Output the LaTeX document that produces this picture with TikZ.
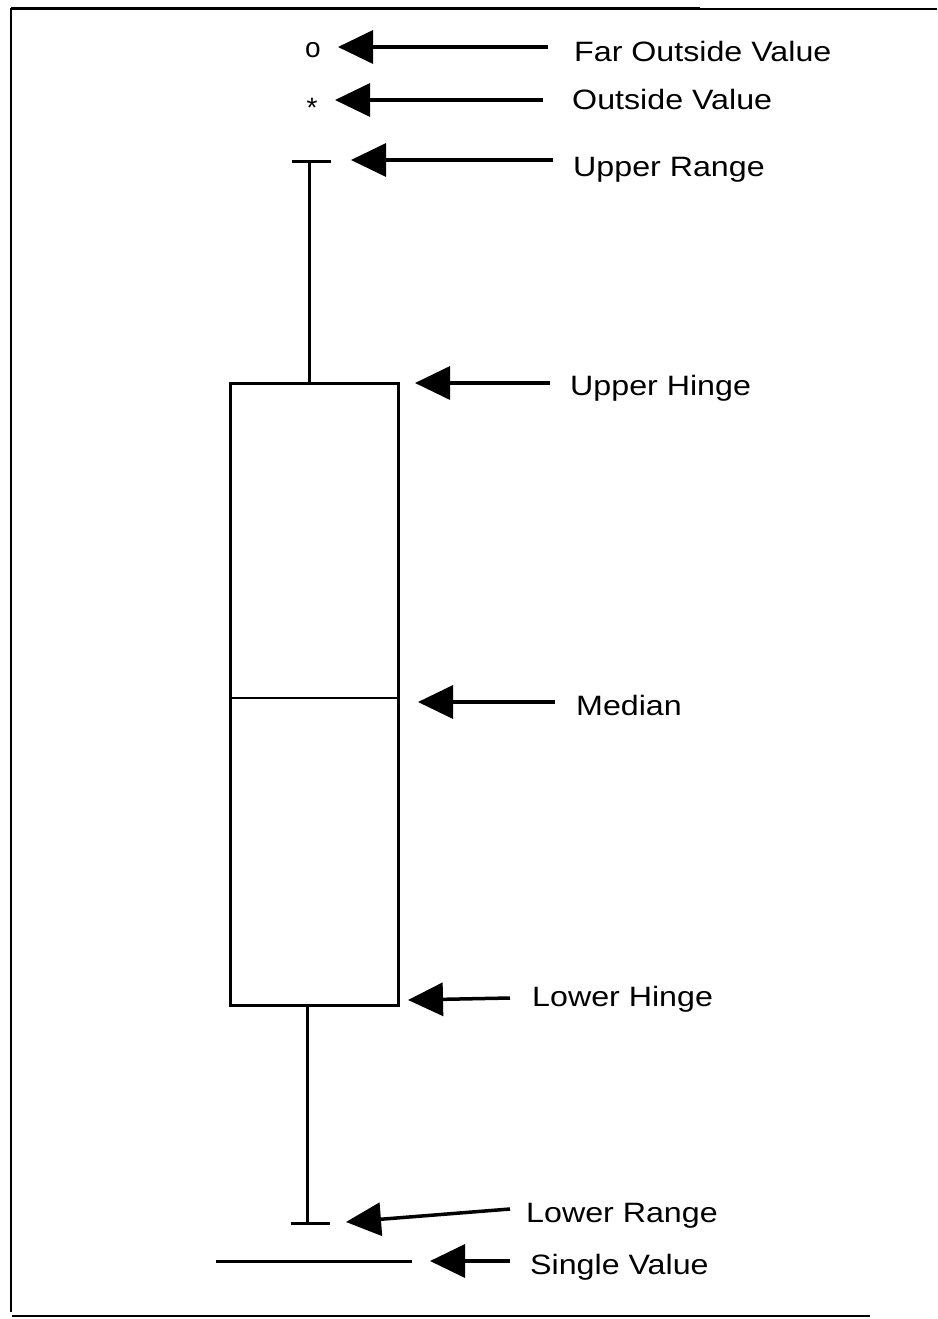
\documentclass[tikz,border=0pt]{standalone}
\usepackage{fontspec}
\setmainfont{Liberation Sans}
\usetikzlibrary{arrows.meta}
\tikzset{
  ptr/.style={line width=3.5pt,-{Triangle[length=35pt,width=33pt]}},
  lbl/.style={anchor=base west,inner sep=0pt,font=\fontsize{28}{30}\selectfont},
  frm/.style={line width=2.5pt},
  boxln/.style={line width=2.5pt},
  markernode/.style={inner sep=0pt,font=\fontsize{28}{30}\selectfont}
}
\newcommand{\wlbl}[1]{\scalebox{1.15}[1]{#1}}
\begin{document}
\begin{tikzpicture}[x=1pt,y=-1pt]
\useasboundingbox (0,0) rectangle (937,1319);
% frame
\draw[frm] (11,1312) -- (11,9) -- (937,9);
\draw[line width=3pt] (11,9) -- (700,9);
\draw[frm] (12,1316) -- (870,1316);
% markers
\node[markernode] (far) at (313,50) {o};
\node[markernode] (out) at (312,108) {*};
% box
\node[boxln,draw,minimum width=168pt,minimum height=622pt,inner sep=0pt,anchor=north west] (box) at (229,382) {};
\coordinate (medL) at (229,698);
\coordinate (medR) at (397,698);
\draw[boxln] (medL) -- (medR);
% whiskers
\coordinate (uw) at (309,382);
\coordinate (uc) at (309,161);
\coordinate (ucL) at (292,161);
\coordinate (ucR) at (331,161);
\draw[line width=3pt] (uw) -- (uc);
\draw[line width=3pt] (ucL) -- (ucR);
\coordinate (lw) at (307,1004);
\coordinate (lc) at (307,1223);
\coordinate (lcL) at (291,1223);
\coordinate (lcR) at (330,1223);
\draw[line width=3pt] (lw) -- (lc);
\draw[line width=3pt] (lcL) -- (lcR);
% single value line
\coordinate (svL) at (216,1261);
\coordinate (svR) at (412,1261);
\draw[line width=3pt] (svL) -- (svR);
% labels
\node[lbl] (lFar) at (574,62) {\wlbl{Far Outside Value}};
\node[lbl] (lOut) at (572,110) {\wlbl{Outside Value}};
\node[lbl] (lUR) at (573,176) {\wlbl{Upper Range}};
\node[lbl] (lUH) at (570,395) {\wlbl{Upper Hinge}};
\node[lbl] (lMed) at (576,715) {\wlbl{Median}};
\node[lbl] (lLH) at (532,1006) {\wlbl{Lower Hinge}};
\node[lbl] (lLR) at (526,1222) {\wlbl{Lower Range}};
\node[lbl] (lSV) at (530,1274) {\wlbl{Single Value}};
% arrow tails and tips
\coordinate (t1) at (548,47);  \coordinate (h1) at (338,47);
\coordinate (t2) at (543,100); \coordinate (h2) at (335,100);
\coordinate (t3) at (553,160); \coordinate (h3) at (351,160);
\coordinate (t4) at (550,383); \coordinate (h4) at (415,383);
\coordinate (t5) at (555,702); \coordinate (h5) at (418,702);
\coordinate (t6) at (510,998); \coordinate (h6) at (408,1000);
\coordinate (t7) at (510,1209); \coordinate (h7) at (346,1222);
\coordinate (t8) at (510,1261); \coordinate (h8) at (430,1261);
\draw[ptr] (t1) -- (h1);
\draw[ptr] (t2) -- (h2);
\draw[ptr] (t3) -- (h3);
\draw[ptr] (t4) -- (h4);
\draw[ptr] (t5) -- (h5);
\draw[ptr] (t6) -- (h6);
\draw[ptr] (t7) -- (h7);
\draw[ptr] (t8) -- (h8);
\end{tikzpicture}
\end{document}
